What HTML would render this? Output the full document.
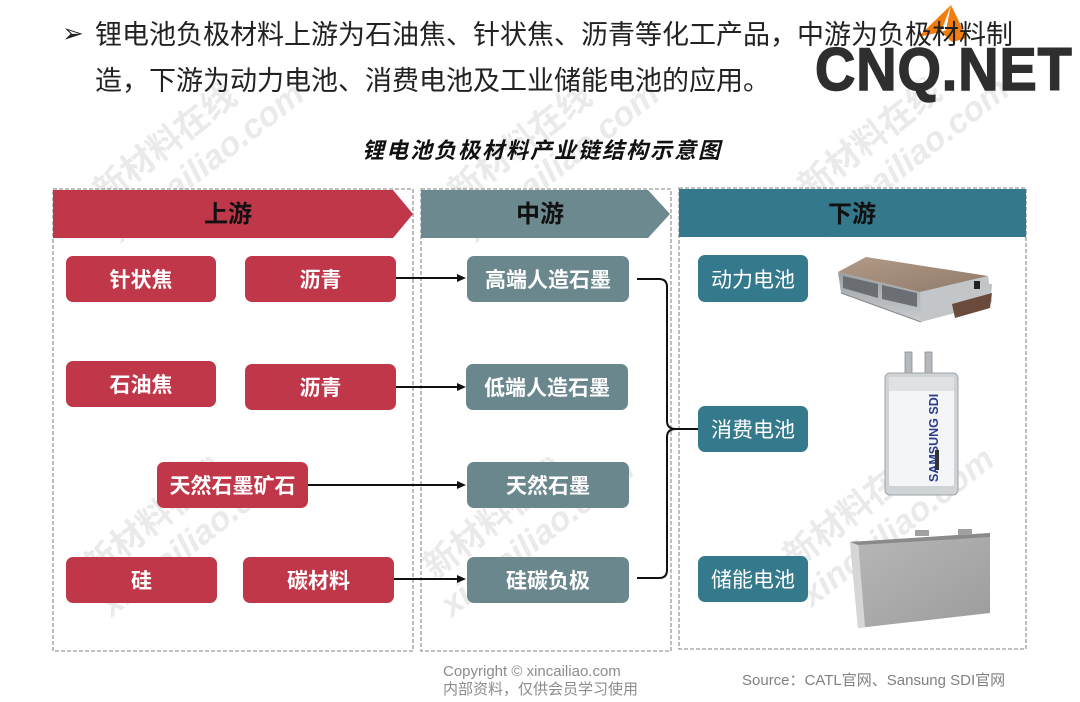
<!DOCTYPE html>
<html><head><meta charset="utf-8">
<style>
html,body{margin:0;padding:0;background:#fff;}
body{width:1080px;height:702px;position:relative;overflow:hidden;font-family:"Liberation Sans","Noto Sans CJK SC",sans-serif;}
.t{position:absolute;white-space:nowrap;}
.box{position:absolute;border-radius:7px;color:#fff;font-weight:bold;font-size:21px;display:flex;align-items:center;justify-content:center;font-family:"Liberation Sans","Noto Sans CJK SC",sans-serif;}
.r{background:#c0374a;}
.m{background:#6a878d;}
.d{background:#347a8c;font-weight:normal;}
.hd{position:absolute;font-weight:bold;font-size:24px;color:#111;}
svg{position:absolute;left:0;top:0;}
</style></head><body>

<svg width="1080" height="702" viewBox="0 0 1080 702">
  <defs>
    <linearGradient id="gb" x1="0" y1="0" x2="1" y2="1">
      <stop offset="0" stop-color="#b39a87"/><stop offset="1" stop-color="#8f7a6a"/>
    </linearGradient>
    <linearGradient id="gs" x1="0" y1="0" x2="0" y2="1">
      <stop offset="0" stop-color="#9a9fa3"/><stop offset="1" stop-color="#c9cdd0"/>
    </linearGradient>
    <linearGradient id="gp" x1="0" y1="0" x2="1" y2="1">
      <stop offset="0" stop-color="#b8b8b8"/><stop offset="1" stop-color="#9c9c9c"/>
    </linearGradient>
  </defs>
  <!-- watermarks -->
  <g fill="#c4c4c4" opacity="0.35" font-family="Liberation Sans, Noto Sans CJK SC, sans-serif" font-weight="bold">
    <g transform="translate(105,205) rotate(-38)"><text x="0" y="0" font-size="34">新材料在线</text><text x="-10" y="40" font-size="34" font-style="italic">xincailiao.com</text></g>
    <g transform="translate(460,205) rotate(-38)"><text x="0" y="0" font-size="34">新材料在线</text><text x="-10" y="40" font-size="34" font-style="italic">xincailiao.com</text></g>
    <g transform="translate(810,200) rotate(-38)"><text x="0" y="0" font-size="34">新材料在线</text><text x="-10" y="40" font-size="34" font-style="italic">xincailiao.com</text></g>
    <g transform="translate(95,580) rotate(-38)"><text x="0" y="0" font-size="34">新材料在线</text><text x="-10" y="40" font-size="34" font-style="italic">xincailiao.com</text></g>
    <g transform="translate(435,580) rotate(-38)"><text x="0" y="0" font-size="34">新材料在线</text><text x="-10" y="40" font-size="34" font-style="italic">xincailiao.com</text></g>
    <g transform="translate(795,570) rotate(-38)"><text x="0" y="0" font-size="34">新材料在线</text><text x="-10" y="40" font-size="34" font-style="italic">xincailiao.com</text></g>
  </g>

  <!-- dashed containers -->
  <g fill="none" stroke="#9a9a9a" stroke-width="1.3" stroke-dasharray="4 2">
    <rect x="53" y="189" width="360" height="462"/>
    <rect x="421" y="189" width="250" height="462"/>
    <rect x="679" y="188" width="347" height="461"/>
  </g>

  <!-- headers -->
  <polygon points="53,190 393,190 413,214 393,238 53,238" fill="#c0374a"/>
  <polygon points="421,190 648,190 670,214 648,238 421,238" fill="#6b898f"/>
  <rect x="679" y="189" width="347" height="48" fill="#34798b"/>

  <!-- arrows -->
  <g stroke="#111" stroke-width="2" fill="none">
    <line x1="396" y1="278" x2="458" y2="278"/>
    <line x1="396" y1="387" x2="458" y2="387"/>
    <line x1="308" y1="485" x2="458" y2="485"/>
    <line x1="394" y1="579" x2="458" y2="579"/>
    <path d="M637,279 L659,279 Q667,279 667,287 L667,421 Q667,429 676,429 Q667,429 667,437 L667,570 Q667,578 659,578 L637,578"/>
    <line x1="675" y1="429" x2="698" y2="429"/>
  </g>
  <g fill="#111">
    <polygon points="457,274 466,278 457,282"/>
    <polygon points="457,383 466,387 457,391"/>
    <polygon points="457,481 466,485 457,489"/>
    <polygon points="457,575 466,579 457,583"/>
  </g>

  <!-- power battery -->
  <g>
    <polygon points="838,275 843,292 920,322 990,304 992,284 922,292" fill="#b8bcbf"/>
    <polygon points="838,272 920,292 921,322 841,293" fill="url(#gs)"/>
    <polygon points="843,276 878,284 878,298 843,288" fill="#5f6266" opacity="0.85"/>
    <polygon points="882,285 917,293 917,307 882,299" fill="#5f6266" opacity="0.85"/>
    <polygon points="920,292 988,276 992,302 921,322" fill="#c3c6c8"/>
    <polygon points="838,272 866,257 988,276 920,292" fill="url(#gb)"/>
    <rect x="974" y="281" width="6" height="8" fill="#222"/>
    <polygon points="952,304 992,293 990,308 955,318" fill="#6a4a3a"/>
    <line x1="841" y1="293" x2="921" y2="322" stroke="#888" stroke-width="1"/>
  </g>

  <!-- samsung pouch -->
  <g>
    <rect x="905" y="352" width="7" height="24" fill="#b5b9bc" stroke="#8a8e91" stroke-width="0.8"/>
    <rect x="925" y="352" width="7" height="24" fill="#b5b9bc" stroke="#8a8e91" stroke-width="0.8"/>
    <rect x="885" y="373" width="73" height="122" rx="5" fill="#cfd3d6" stroke="#9ea3a7" stroke-width="1"/>
    <rect x="889" y="390" width="65" height="96" rx="2" fill="#f4f5f7"/>
    <rect x="889" y="377" width="65" height="14" fill="#dfe2e4"/>
    <text transform="translate(938,482) rotate(-90)" font-family="Liberation Sans, sans-serif" font-weight="bold" font-size="12.5" fill="#2b3c8f">SAMSUNG  SDI</text>
    <rect x="935" y="450" width="4" height="20" fill="#333"/>
  </g>

  <!-- prismatic cell -->
  <g>
    <polygon points="850,542 990,533 990,613 858,628" fill="url(#gp)"/>
    <polygon points="850,542 858,540 865,627 858,628" fill="#d6d6d6"/>
    <polygon points="850,542 990,533 990,537 858,545" fill="#8a8a8a"/>
    <rect x="915" y="530" width="14" height="6" fill="#a0a0a0"/>
    <rect x="958" y="529" width="14" height="6" fill="#a0a0a0"/>
  </g>

  <!-- orange logo mark -->
  <g fill="#f07d0e">
    <polygon points="951,5 918,37 941,32"/>
    <polygon points="951,5 946,30 967,38"/>
    <polygon points="941,32 946,30 967,38 952,42"/>
  </g>
</svg>

<!-- top bullet text -->
<div class="t" style="left:62px;top:18px;font-size:26px;color:#222;line-height:30px;">&#10146;</div>
<div class="t" style="left:95px;top:18px;font-size:27px;color:#222;line-height:34px;font-family:'Liberation Sans','Noto Sans CJK SC',sans-serif;">锂电池负极材料上游为石油焦、针状焦、沥青等化工产品，中游为负极材料制</div>
<div class="t" style="left:95px;top:64px;font-size:27px;color:#222;line-height:34px;font-family:'Liberation Sans','Noto Sans CJK SC',sans-serif;">造，下游为动力电池、消费电池及工业储能电池的应用。</div>

<!-- CNQ.NET -->
<div class="t" style="left:815px;top:38px;font-size:60px;font-weight:bold;color:#2e2e2e;line-height:64px;letter-spacing:1px;transform:scaleX(0.93);transform-origin:0 0;-webkit-text-stroke:1.5px #2e2e2e;">CNQ.NET</div>

<!-- title -->
<div class="t" style="left:362px;top:136px;font-size:22px;font-weight:bold;font-style:italic;color:#111;line-height:30px;letter-spacing:2px;">锂电池负极材料产业链结构示意图</div>

<!-- header labels -->
<div class="hd" style="left:204px;top:201px;line-height:28px;">上游</div>
<div class="hd" style="left:516px;top:201px;line-height:28px;">中游</div>
<div class="hd" style="left:828px;top:201px;line-height:28px;">下游</div>

<!-- upstream boxes -->
<div class="box r" style="left:66px;top:256px;width:150px;height:46px;">针状焦</div>
<div class="box r" style="left:245px;top:256px;width:151px;height:46px;">沥青</div>
<div class="box r" style="left:66px;top:361px;width:150px;height:46px;">石油焦</div>
<div class="box r" style="left:245px;top:364px;width:151px;height:46px;">沥青</div>
<div class="box r" style="left:157px;top:462px;width:151px;height:46px;">天然石墨矿石</div>
<div class="box r" style="left:66px;top:557px;width:151px;height:46px;">硅</div>
<div class="box r" style="left:243px;top:557px;width:151px;height:46px;">碳材料</div>

<!-- midstream boxes -->
<div class="box m" style="left:467px;top:256px;width:162px;height:46px;">高端人造石墨</div>
<div class="box m" style="left:466px;top:364px;width:162px;height:46px;">低端人造石墨</div>
<div class="box m" style="left:467px;top:462px;width:162px;height:46px;">天然石墨</div>
<div class="box m" style="left:467px;top:557px;width:162px;height:46px;">硅碳负极</div>

<!-- downstream boxes -->
<div class="box d" style="left:698px;top:255px;width:110px;height:47px;">动力电池</div>
<div class="box d" style="left:698px;top:406px;width:110px;height:46px;">消费电池</div>
<div class="box d" style="left:698px;top:556px;width:110px;height:46px;">储能电池</div>

<!-- footer -->
<div class="t" style="left:443px;top:663px;font-size:15px;color:#8c8c8c;line-height:18px;">Copyright © xincailiao.com</div>
<div class="t" style="left:443px;top:681px;font-size:15px;color:#8c8c8c;line-height:18px;">内部资料，仅供会员学习使用</div>
<div class="t" style="left:742px;top:671px;font-size:15px;color:#808080;line-height:20px;">Source：CATL官网、Sansung SDI官网</div>

</body></html>
